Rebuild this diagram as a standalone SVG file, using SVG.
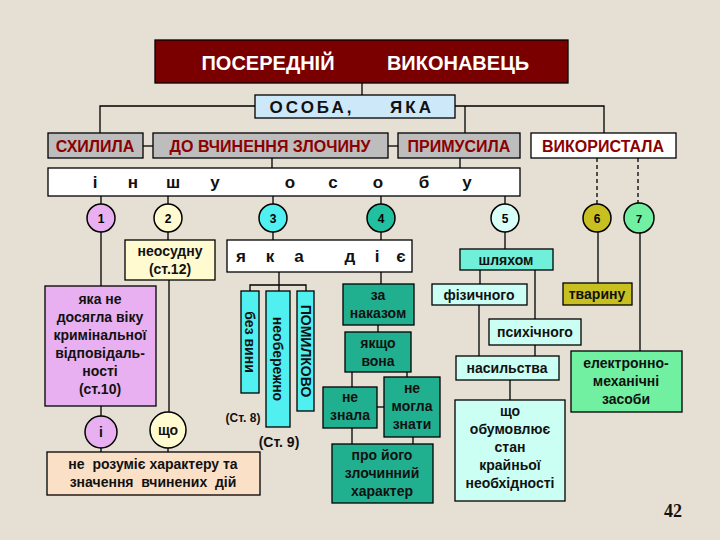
<svg xmlns="http://www.w3.org/2000/svg" width="720" height="540" viewBox="0 0 720 540">
<style>
text{font-family:"Liberation Sans",Arial,sans-serif;font-weight:bold;text-anchor:middle}
.b{stroke:#000;stroke-width:1.3}
.t{font-size:14px;fill:#111}
.r{font-size:16px;fill:#8b0000}
.c{stroke:#000;stroke-width:1.5}
line,path{stroke:#000;stroke-width:1.3;fill:none}
</style>
<rect width="720" height="540" fill="#e6dfd3"/>
<g id="connectors">
<line x1="362" y1="83" x2="362" y2="95"/>
<path d="M255 106H100V133"/>
<path d="M455 106H604V133"/>
<line x1="465" y1="106" x2="465" y2="133"/>
<line x1="143" y1="146" x2="153" y2="146"/>
<line x1="388" y1="146" x2="398" y2="146"/>
<line x1="272" y1="158" x2="272" y2="168"/>
<line x1="460" y1="158" x2="460" y2="168"/>
<line x1="101" y1="196" x2="101" y2="286"/>
<line x1="168" y1="196" x2="168" y2="240"/>
<line x1="273" y1="196" x2="273" y2="240"/>
<line x1="381" y1="196" x2="381" y2="284"/>
<line x1="505" y1="196" x2="505" y2="249"/>
<line x1="597" y1="158" x2="597" y2="204" stroke-dasharray="4,3"/>
<line x1="638" y1="158" x2="638" y2="204" stroke-dasharray="4,3"/>
<line x1="169" y1="280" x2="169" y2="412"/>
<line x1="101" y1="406" x2="101" y2="452"/>
<line x1="168" y1="448" x2="168" y2="452"/>
<path d="M279 272V285M250 291V285H306V291M279 285V291"/>
<line x1="378" y1="325" x2="378" y2="332"/>
<line x1="352" y1="372" x2="352" y2="387"/>
<line x1="407" y1="372" x2="407" y2="377"/>
<line x1="377" y1="407" x2="384" y2="407" stroke-width="2"/>
<line x1="352" y1="428" x2="352" y2="444" stroke-width="2"/>
<line x1="413" y1="437" x2="413" y2="444"/>
<line x1="480" y1="270" x2="480" y2="284"/>
<line x1="535" y1="270" x2="535" y2="319"/>
<line x1="479" y1="305" x2="479" y2="356"/>
<line x1="535" y1="345" x2="535" y2="356"/>
<line x1="510" y1="380" x2="510" y2="400" stroke-width="2"/>
<line x1="598" y1="232" x2="598" y2="283"/>
<line x1="640" y1="232" x2="640" y2="351" stroke-width="2.5"/>
</g>
<g id="title"><rect x="155" y="40" width="413" height="43" fill="#7a0000" class="b"/><text x="268" y="70" font-size="20" fill="#fff">ПОСЕРЕДНІЙ</text><text x="458" y="70" font-size="20" fill="#fff">ВИКОНАВЕЦЬ</text></g>
<g id="osoba"><rect x="255" y="95" width="200" height="23" fill="#cde8f8" class="b"/><text x="312" y="113" font-size="17" fill="#111" letter-spacing="3">ОСОБА,</text><text x="412" y="113" font-size="17" fill="#111" letter-spacing="3">ЯКА</text></g>
<g id="skhylyla"><rect x="48" y="133" width="95" height="25" fill="#bdbdbd" class="b"/><text x="95" y="152" class="r">СХИЛИЛА</text></g>
<g id="do"><rect x="153" y="133" width="235" height="25" fill="#bdbdbd" class="b"/><text x="270" y="152" class="r">ДО ВЧИНЕННЯ ЗЛОЧИНУ</text></g>
<g id="prymusyla"><rect x="398" y="133" width="122" height="25" fill="#bdbdbd" class="b"/><text x="459" y="152" class="r">ПРИМУСИЛА</text></g>
<g id="vykorystala"><rect x="531" y="133" width="145" height="25" fill="#fff" class="b"/><text x="603" y="152" class="r">ВИКОРИСТАЛА</text></g>
<g id="inshu"><rect x="48" y="168" width="472" height="28" fill="#fff" class="b"/>
<g font-size="17" fill="#111"><text x="95" y="188">і</text><text x="133" y="188">н</text><text x="173" y="188">ш</text><text x="215" y="188">у</text><text x="290" y="188">о</text><text x="333" y="188">с</text><text x="378" y="188">о</text><text x="424" y="188">б</text><text x="467" y="188">у</text></g></g>
<g id="c1"><circle cx="101" cy="218" r="14" fill="#e8b0f0" class="c"/><text x="101" y="223" font-size="12">1</text></g>
<g id="c2"><circle cx="168" cy="218" r="14" fill="#fffad0" class="c"/><text x="168" y="223" font-size="12">2</text></g>
<g id="c3"><circle cx="273" cy="218" r="14" fill="#50f0f0" class="c"/><text x="273" y="223" font-size="12">3</text></g>
<g id="c4"><circle cx="381" cy="218" r="14" fill="#20c0a0" class="c"/><text x="381" y="223" font-size="12">4</text></g>
<g id="c5"><circle cx="505" cy="218" r="14" fill="#d8fff8" class="c"/><text x="505" y="223" font-size="12">5</text></g>
<g id="c6"><circle cx="597" cy="218" r="14" fill="#c8c020" class="c"/><text x="597" y="223" font-size="12">6</text></g>
<g id="c7"><circle cx="639" cy="218" r="15" fill="#70f0a0" class="c"/><text x="639" y="223" font-size="11">7</text></g>
<g id="neosudnu"><rect x="125" y="240" width="90" height="40" fill="#fffad0" class="b"/><text x="170" y="256" class="t">неосудну</text><text x="170" y="274" class="t">(ст.12)</text></g>
<g id="nedosyagla"><rect x="45" y="286" width="111" height="120" fill="#e8b0f0" class="b"/>
<g class="t"><text x="100" y="304">яка не</text><text x="100" y="322">досягла віку</text><text x="100" y="340">кримінальної</text><text x="100" y="358">відповідаль-</text><text x="100" y="376">ності</text><text x="100" y="394">(ст.10)</text></g></g>
<g id="i"><circle cx="101" cy="432" r="16" fill="#e8b0f0" class="c"/><text x="101" y="437" class="t">і</text></g>
<g id="shcho"><circle cx="168" cy="430" r="18" fill="#fffad0" class="c"/><text x="168" y="435" class="t">що</text></g>
<g id="nerozumie"><rect x="47" y="452" width="213" height="43" fill="#fbe0c8" class="b"/><text x="153" y="469" class="t" style="white-space:pre">не  розуміє характеру та</text><text x="153" y="487" class="t" style="white-space:pre">значення  вчинених  дій</text></g>
<g id="yakadiie"><rect x="227" y="240" width="185" height="32" fill="#fff" class="b"/>
<g font-size="17" fill="#111"><text x="241" y="262">я</text><text x="270" y="262">к</text><text x="299" y="262">а</text><text x="350" y="262">д</text><text x="377" y="262">і</text><text x="401" y="262">є</text></g></g>
<g id="bezvyny"><rect x="241" y="291" width="18" height="102" fill="#50f0f0" class="b"/><text transform="translate(245 342) rotate(90)" class="t">без вини</text></g>
<g id="neoberezhno"><rect x="266" y="291" width="24" height="136" fill="#50f0f0" class="b"/><text transform="translate(273 359) rotate(90)" class="t">необережно</text></g>
<g id="pomylkovo"><rect x="297" y="291" width="17" height="120" fill="#50f0f0" class="b"/><text transform="translate(301 351) rotate(90)" class="t">ПОМИЛКОВО</text></g>
<text x="243" y="422" font-size="12" fill="#111">(Ст. 8)</text>
<text x="279" y="447" class="t">(Ст. 9)</text>
<g id="zanakazom"><rect x="343" y="284" width="71" height="41" fill="#20b090" class="b"/><text x="378" y="300" class="t">за</text><text x="378" y="318" class="t">наказом</text></g>
<g id="yakshcho"><rect x="345" y="332" width="66" height="40" fill="#20b090" class="b"/><text x="378" y="348" class="t">якщо</text><text x="378" y="366" class="t">вона</text></g>
<g id="neznala"><rect x="323" y="387" width="54" height="41" fill="#20b090" class="b"/><text x="350" y="402" class="t">не</text><text x="350" y="420" class="t">знала</text></g>
<g id="nemogla"><rect x="384" y="377" width="56" height="60" fill="#20b090" class="b"/><text x="412" y="393" class="t">не</text><text x="412" y="411" class="t">могла</text><text x="412" y="429" class="t">знати</text></g>
<g id="proyogo"><rect x="332" y="444" width="101" height="59" fill="#20b090" class="b"/><text x="382" y="460" class="t">про його</text><text x="382" y="478" class="t">злочинний</text><text x="382" y="496" class="t">характер</text></g>
<g id="shlyakhom"><rect x="460" y="249" width="93" height="21" fill="#70f0d8" class="b"/><text x="506" y="265" class="t">шляхом</text></g>
<g id="fizychnogo"><rect x="432" y="284" width="95" height="21" fill="#ccfff4" class="b"/><text x="479" y="300" class="t">фізичного</text></g>
<g id="psykhichnogo"><rect x="489" y="319" width="92" height="26" fill="#ccfff4" class="b"/><text x="535" y="337" class="t">психічного</text></g>
<g id="nasylstva"><rect x="456" y="356" width="103" height="24" fill="#ccfff4" class="b"/><text x="507" y="373" class="t">насильства</text></g>
<g id="obumovliue"><rect x="455" y="400" width="110" height="101" fill="#ccfff4" class="b"/>
<g class="t"><text x="510" y="416">що</text><text x="510" y="434">обумовлює</text><text x="510" y="452">стан</text><text x="510" y="470">крайньої</text><text x="510" y="488">необхідності</text></g></g>
<g id="tvarynu"><rect x="563" y="283" width="69" height="22" fill="#c8c020" class="b"/><text x="597" y="299" class="t">тварину</text></g>
<g id="elektronno"><rect x="571" y="351" width="111" height="61" fill="#70f0a0" class="b"/><text x="626" y="368" class="t">електронно-</text><text x="626" y="386" class="t">механічні</text><text x="626" y="404" class="t">засоби</text></g>
<text x="673" y="517" style="font-family:'Liberation Serif',serif;font-size:18px" fill="#111">42</text>
</svg>
